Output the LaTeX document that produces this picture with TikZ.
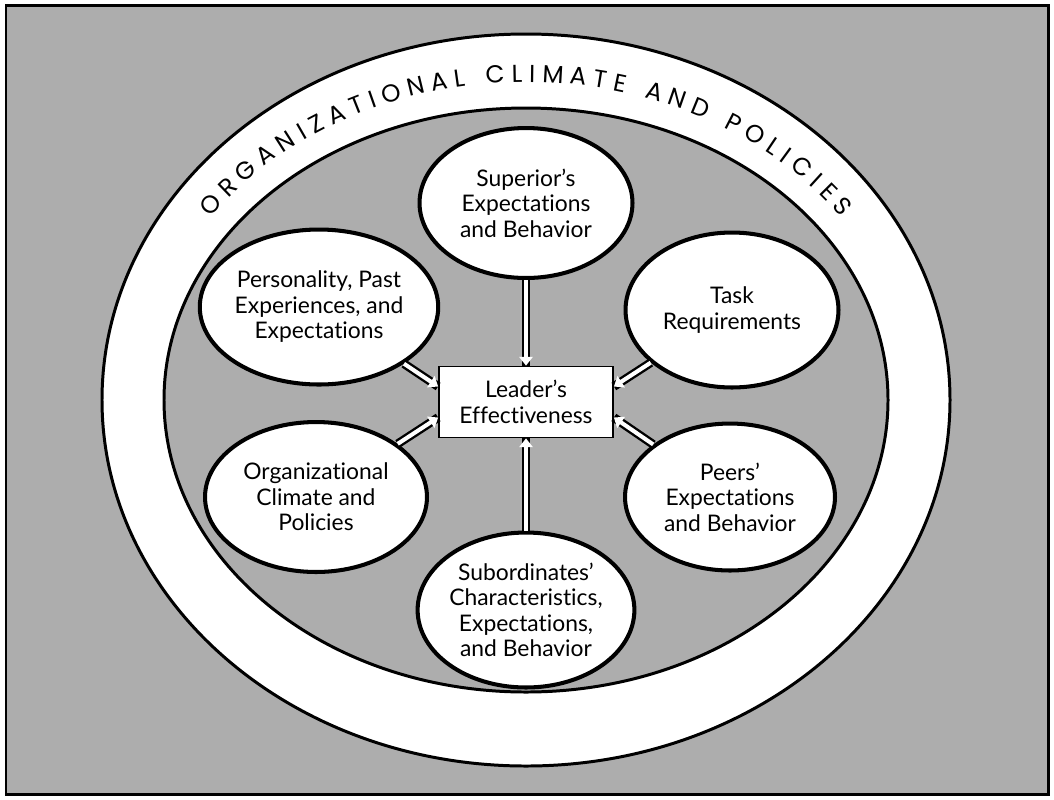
\documentclass[tikz,border=0pt]{standalone}
\usepackage{fontspec}
\setmainfont{Lato}[Ligatures={TeX,NoCommon}]
\newfontfamily\ringfont{Poppins}
\usetikzlibrary{arrows.meta,shapes.geometric,decorations.text}

\begin{document}
\begin{tikzpicture}[x=0.02cm, y=0.02cm,
    font=\fontsize{13}{14.5}\selectfont,
    bubble/.style={ellipse, draw=black, line width=2.3pt, fill=white, inner sep=0pt, align=center},
    leadbox/.style={rectangle, draw=black, line width=1pt, fill=white, minimum width=3.48cm, minimum height=1.42cm, align=center, inner sep=0pt},
    link/.style={white, line width=2.3pt, -{Triangle[width=7.5pt, length=5pt]}, preaction={draw=black, line width=5pt, -}},
  ]
  \useasboundingbox (0,0) rectangle (1054,-799);

  % stippled page and frame
  \fill[black!32] (6,-5) rectangle (1048,-794);
  \draw[line width=1.7pt] (6,-5) rectangle (1048,-794);

  % the white ring
  \fill[white, even odd rule] (526,-400) ellipse[x radius=424, y radius=366]
    (526,-400) ellipse[x radius=362, y radius=292];
  \draw[line width=1.7pt] (526,-400) ellipse[x radius=424, y radius=366];
  \draw[line width=1.7pt] (526,-400) ellipse[x radius=362, y radius=292];
  \path[decorate, decoration={text along path, text align=fit to path,
      text={|\ringfont\fontsize{14}{14}\selectfont|ORGANIZATIONAL CLIMATE AND POLICIES}}]
    (526,-400) ++(145:385 and 318) arc[start angle=145, end angle=35, x radius=385, y radius=318];

  % influences
  \node[bubble, minimum width=4.26cm, minimum height=3cm] (sup) at (526,-203) {Superior's\\Expectations\\and Behavior};
  \node[bubble, minimum width=4.5cm, minimum height=3.1cm] (pers) at (319,-307) {Personality, Past\\Experiences, and\\Expectations};
  \node[bubble, minimum width=4.26cm, minimum height=3.1cm] (task) at (732,-310) {Task\\Requirements};
  \node[bubble, minimum width=4.44cm, minimum height=3cm] (org) at (316,-497) {Organizational\\Climate and\\Policies};
  \node[bubble, minimum width=4.2cm, minimum height=2.94cm] (peers) at (730,-497) {Peers'\\Expectations\\and Behavior};
  \node[bubble, minimum width=4.26cm, minimum height=3.1cm] (sub) at (526,-610) {Subordinates'\\Characteristics,\\Expectations,\\and Behavior};
  \node[leadbox] (lead) at (526,-402) {Leader's\\Effectiveness};

  \draw[link] (sup) -- (lead);
  \draw[link] (sub) -- (lead);
  \draw[link] (pers) -- (lead.170);
  \draw[link] (org) -- (lead.190);
  \draw[link] (task) -- (lead.10);
  \draw[link] (peers) -- (lead.350);
\end{tikzpicture}
\end{document}
